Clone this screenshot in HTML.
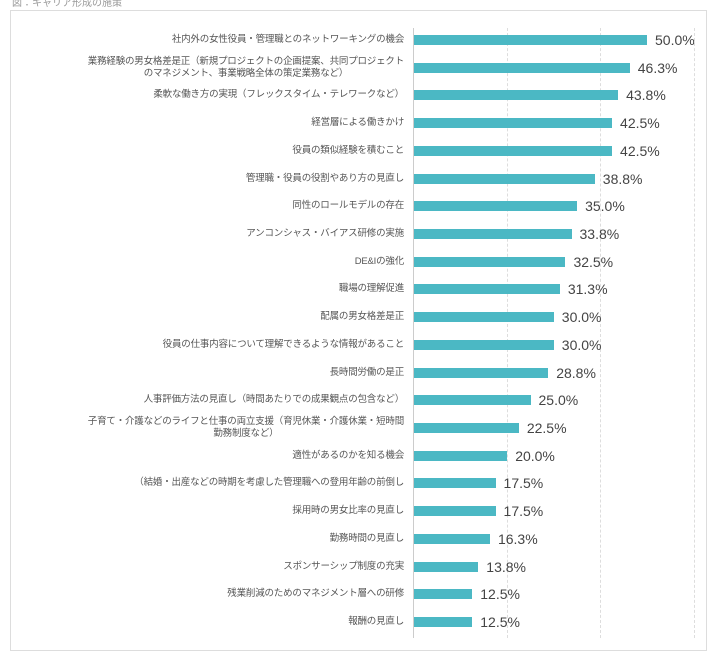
<!DOCTYPE html>
<html><head><meta charset="utf-8"><style>
body{margin:0;width:709px;height:661px;background:#fff;position:relative;overflow:hidden;font-family:"Liberation Sans","Noto Sans CJK JP",sans-serif}
.frame{position:absolute;left:10px;top:10px;width:697px;height:641px;border:1px solid #ddd;box-sizing:border-box}
.g{position:absolute;top:28px;height:610px;border-left:1px dashed #ddd}
.ax{position:absolute;left:413px;top:28px;height:610px;border-left:1px solid #ccc}
.lab{position:absolute;right:305px;width:340px;text-align:right;font-size:9.5px;color:#555;line-height:12px;transform:translateY(-50%);white-space:nowrap;letter-spacing:-0.2px}
.bar{position:absolute;left:414px;height:10px;background:#4bb8c4}
.val{position:absolute;font-size:14px;color:#444;transform:translateY(-50%)}
</style></head><body>
<div style="position:absolute;left:12px;top:-6px;font-size:10px;color:#999">図：キャリア形成の施策</div>
<div class="frame"></div>
<div class="g" style="left:507px"></div><div class="g" style="left:600px"></div><div class="g" style="left:694px"></div>
<div class="ax"></div>
<div id="c"></div>
<script>
var d=[["社内外の女性役員・管理職とのネットワーキングの機会",50.0],["業務経験の男女格差是正（新規プロジェクトの企画提案、共同プロジェクト<br>のマネジメント、事業戦略全体の策定業務など）",46.3],["柔軟な働き方の実現（フレックスタイム・テレワークなど）",43.8],["経営層による働きかけ",42.5],["役員の類似経験を積むこと",42.5],["管理職・役員の役割やあり方の見直し",38.8],["同性のロールモデルの存在",35.0],["アンコンシャス・バイアス研修の実施",33.8],["DE&Iの強化",32.5],["職場の理解促進",31.3],["配属の男女格差是正",30.0],["役員の仕事内容について理解できるような情報があること",30.0],["長時間労働の是正",28.8],["人事評価方法の見直し（時間あたりでの成果観点の包含など）",25.0],["子育て・介護などのライフと仕事の両立支援（育児休業・介護休業・短時間<br>勤務制度など）",22.5],["適性があるのかを知る機会",20.0],["（結婚・出産などの時期を考慮した管理職への登用年齢の前倒し",17.5],["採用時の男女比率の見直し",17.5],["勤務時間の見直し",16.3],["スポンサーシップ制度の充実",13.8],["残業削減のためのマネジメント層への研修",12.5],["報酬の見直し",12.5]];
var h="";for(var i=0;i<d.length;i++){var y=40+i*(582/21);var w=d[i][1]*4.66;
var ta=d[i][0].indexOf("<br>")>=0?"center":"right";
h+='<div class="lab" style="top:'+y+'px"><div style="display:inline-block;text-align:'+ta+'">'+d[i][0]+'</div></div><div class="bar" style="top:'+(y-5)+'px;width:'+w+'px"></div><div class="val" style="top:'+y+'px;left:'+(414+w+8)+'px">'+d[i][1].toFixed(1)+'%</div>';}
document.getElementById("c").innerHTML=h;
</script>
</body></html>
